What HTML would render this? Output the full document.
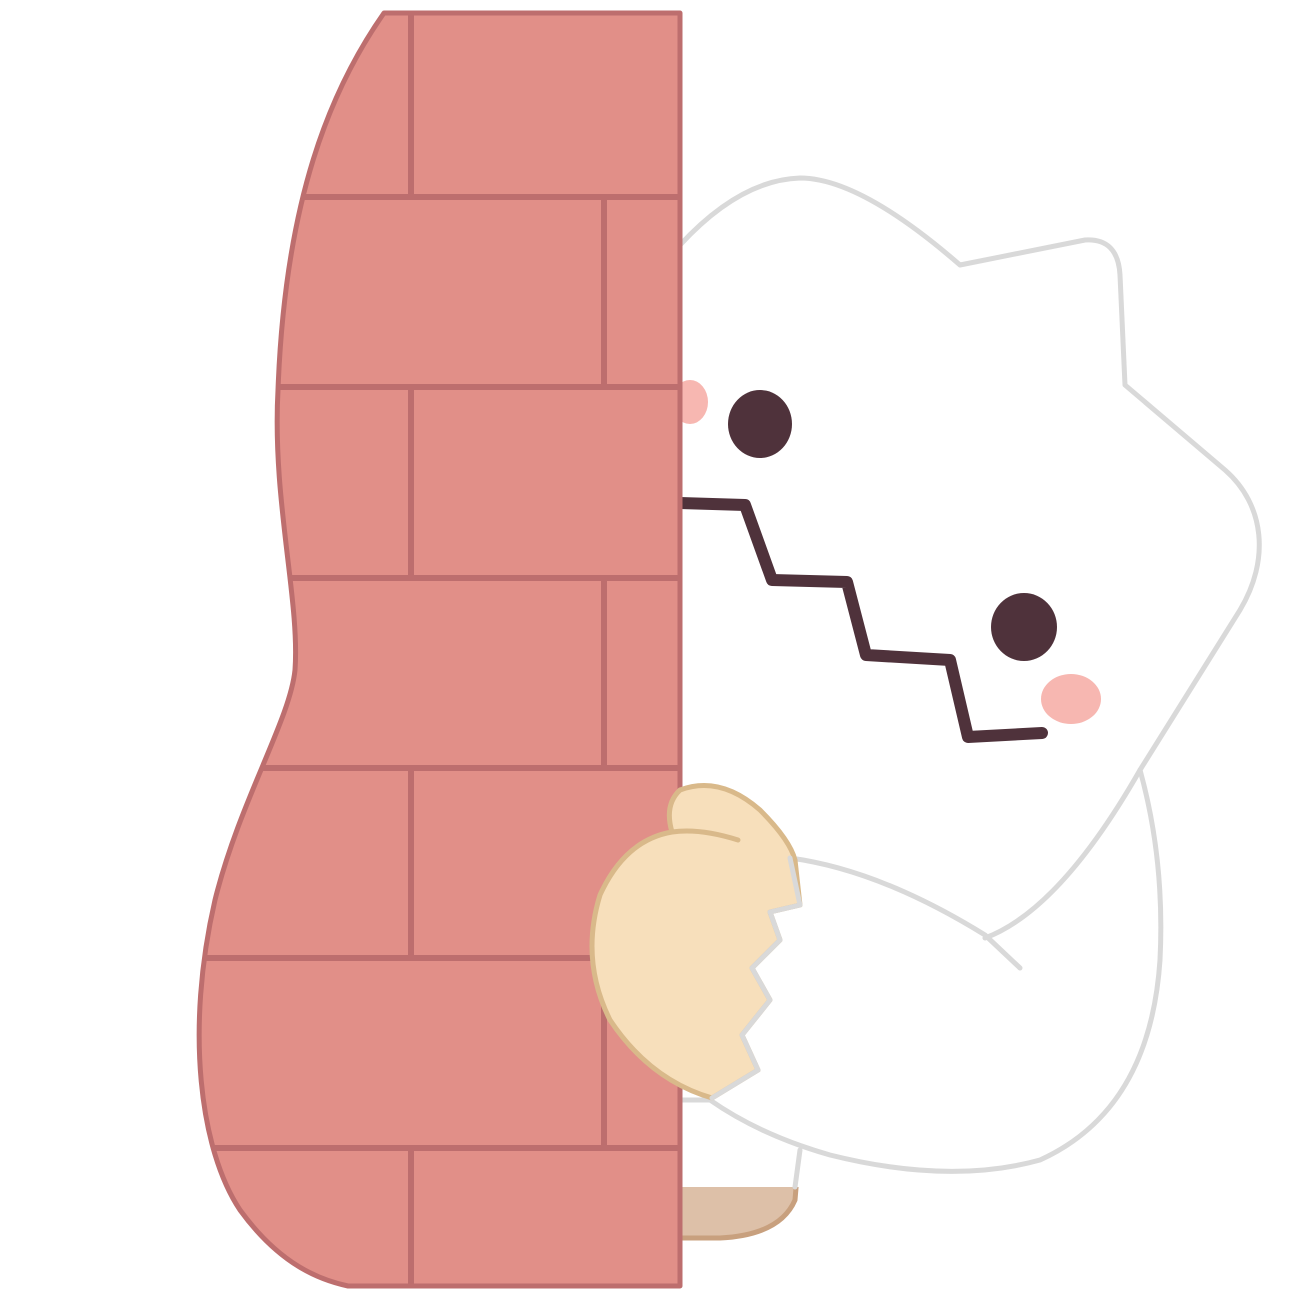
<!DOCTYPE html>
<html><head><meta charset="utf-8"><style>html,body{margin:0;padding:0;background:#fff}svg{display:block}</style></head>
<body>
<svg width="1300" height="1300" viewBox="0 0 1300 1300" xmlns="http://www.w3.org/2000/svg">
  <g stroke="#d9d9d9" stroke-width="5" fill="#fff" stroke-linejoin="round" stroke-linecap="round">
    <path d="M680,1140 L800,1140 L795,1200 Q780,1235 720,1238 L680,1238 Z" fill="#ddc0a8" stroke="#c8a07e"/>
    <path d="M680,1100 L805,1130 L800,1187 L680,1187 Z" fill="#fff" stroke="none"/>
    <path d="M800,1150 L795,1187" fill="none"/>
    <path d="M680,245 Q740,180 800,178 Q860,178 960,265 L1085,240 Q1118,238 1120,275 L1125,385 L1225,470 C1265,505 1270,560 1240,610 L1140,770 Q1165,860 1160,960 Q1150,1110 1040,1160 Q950,1185 830,1155 Q760,1135 710,1100 L680,1100 Z"/>
    <path d="M790,858 Q880,870 985,935 L1020,968" fill="none"/>
    <path d="M985,938 Q1060,910 1140,770" fill="none"/>
    <ellipse cx="690" cy="402" rx="18" ry="22" fill="#f7b7b1" stroke="none"/>
    <ellipse cx="760" cy="424" rx="32" ry="34" fill="#4f323b" stroke="none"/>
    <ellipse cx="1024" cy="627" rx="33" ry="34" fill="#4f323b" stroke="none"/>
    <ellipse cx="1071" cy="699" rx="30" ry="25" fill="#f7b7b1" stroke="none"/>
    <polyline points="680,503 745,505 772,580 847,582 866,655 950,660 968,737 1042,733" fill="none" stroke="#4f323b" stroke-width="12"/>
  </g>
  <g>
    <path d="M384,13 L680,13 L680,1286 L348,1286 C320,1280 280,1265 240,1210 C200,1150 185,1030 215,900 C240,800 290,720 295,670 C300,600 272,500 278,390 C285,200 330,90 384,13 Z" fill="#e18f88" stroke="#bd6e6e" stroke-width="5" stroke-linejoin="round"/>
    <clipPath id="wc"><path d="M384,13 L680,13 L680,1286 L348,1286 C320,1280 280,1265 240,1210 C200,1150 185,1030 215,900 C240,800 290,720 295,670 C300,600 272,500 278,390 C285,200 330,90 384,13 Z"/></clipPath>
    <g clip-path="url(#wc)" stroke="#bd6e6e" stroke-width="6">
      <line x1="150" y1="197" x2="680" y2="197"/><line x1="150" y1="387" x2="680" y2="387"/>
      <line x1="150" y1="578" x2="680" y2="578"/><line x1="150" y1="768" x2="680" y2="768"/>
      <line x1="150" y1="958" x2="680" y2="958"/><line x1="150" y1="1148" x2="680" y2="1148"/>
      <line x1="411" y1="13" x2="411" y2="197"/><line x1="604" y1="197" x2="604" y2="387"/>
      <line x1="411" y1="387" x2="411" y2="578"/><line x1="604" y1="578" x2="604" y2="768"/>
      <line x1="411" y1="768" x2="411" y2="958"/><line x1="604" y1="958" x2="604" y2="1148"/>
      <line x1="411" y1="1148" x2="411" y2="1286"/>
    </g>
  </g>
  <g stroke-linejoin="round" stroke-linecap="round">
    <path d="M680,790 Q720,775 760,810 Q790,840 795,860 L800,905 L770,912 L780,940 L752,968 L770,1000 L742,1035 L758,1070 L712,1098 Q650,1080 610,1020 Q580,960 600,895 Q625,840 672,832 Q664,805 680,790 Z" fill="#f7dfbb" stroke="#d9b98a" stroke-width="5"/>
    <path d="M672,832 Q700,828 738,840" fill="none" stroke="#d9b98a" stroke-width="5"/>
    <path d="M790,858 L800,905 L770,912 L780,940 L752,968 L770,1000 L742,1035 L758,1070 L712,1098" fill="none" stroke="#d9d9d9" stroke-width="5"/>
  </g>
</svg>
</body></html>
